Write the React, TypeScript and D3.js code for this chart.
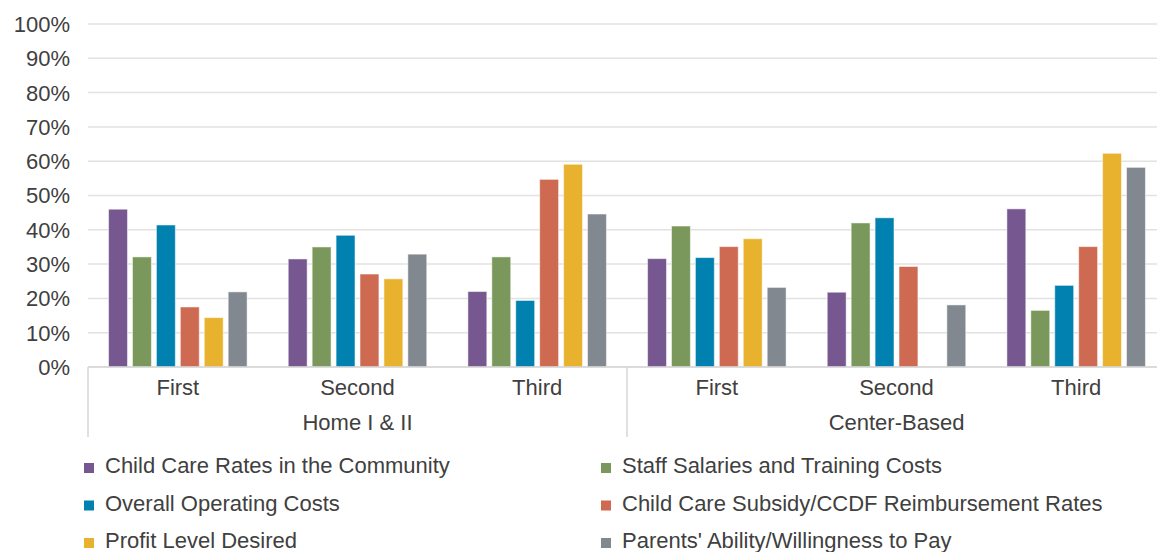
import * as d3 from 'd3'

const groups = ['Home I & II', 'Center-Based']
const ranks = ['First', 'Second', 'Third']
const series = [
  'Child Care Rates in the Community',
  'Staff Salaries and Training Costs',
  'Overall Operating Costs',
  'Child Care Subsidy/CCDF Reimbursement Rates',
  'Profit Level Desired',
  "Parents' Ability/Willingness to Pay",
]
const colors = ['#76578f', '#7a985c', '#0081b0', '#cd6a51', '#e8b22e', '#828890']

// values per series, in order: Home First, Second, Third, Center First, Second, Third
const childCareRates = [0.46, 0.315, 0.22, 0.316, 0.218, 0.461]
const staffSalaries = [0.321, 0.35, 0.321, 0.411, 0.42, 0.165]
const operatingCosts = [0.414, 0.384, 0.194, 0.319, 0.435, 0.238]
const subsidyRates = [0.175, 0.271, 0.547, 0.351, 0.293, 0.351]
const profitLevel = [0.144, 0.257, 0.591, 0.374, 0, 0.623]
const parentsAbility = [0.219, 0.329, 0.446, 0.232, 0.181, 0.582]
const seriesValues = [childCareRates, staffSalaries, operatingCosts, subsidyRates, profitLevel, parentsAbility]

const yTicks = [0, 0.1, 0.2, 0.3, 0.4, 0.5, 0.6, 0.7, 0.8, 0.9, 1]

export default function App() {
  const width = 1157
  const height = 552
  const left = 88
  const right = 1166
  const top = 24
  const bottom = 367

  const cats = groups.flatMap(g => ranks.map(r => `${g}|${r}`))
  const x0 = d3.scaleBand<string>().domain(cats).range([left, right])
  const x1 = d3.scaleBand<string>()
    .domain(series)
    .range([0, x0.bandwidth()])
    .paddingInner(0.21)
    .paddingOuter(0.86)
  const y = d3.scaleLinear().domain([0, 1]).range([bottom, top])
  const gx = d3.scaleBand<string>().domain(groups).range([left, right])

  const textColor = '#404040'
  const font = 'Liberation Sans, Arial, sans-serif'
  const fs = 22

  return (
    <svg
      width={width}
      height={height}
      style={{position: 'absolute', left: 0, top: 0}}
      fontFamily={font}
    >
      <rect width={width} height={height} fill='#fff' />
      {yTicks.map(t => (
        <g key={t}>
          <line x1={left} x2={width} y1={y(t)} y2={y(t)} stroke='#e2e2e2' strokeWidth={1.5} />
          <text x={70} y={y(t)} dy='0.36em' textAnchor='end' fontSize={fs} fill={textColor}>
            {d3.format('.0%')(t)}
          </text>
        </g>
      ))}

      {cats.map((c, ci) => (
        <g key={c} transform={`translate(${x0(c)},0)`}>
          {series.map((s, si) => {
            const v = seriesValues[si][ci]
            if (!v) return null
            return (
              <rect
                key={s}
                x={x1(s)}
                y={y(v)}
                width={x1.bandwidth()}
                height={y(0) - y(v)}
                fill={colors[si]}
                stroke='#fff'
                strokeOpacity={0.5}
                strokeWidth={1}
              />
            )
          })}
          <text
            x={x0.bandwidth() / 2}
            y={395}
            textAnchor='middle'
            fontSize={fs}
            fill={textColor}
          >
            {c.split('|')[1]}
          </text>
        </g>
      ))}

      <line x1={left} x2={width} y1={bottom} y2={bottom} stroke='#d6d6d6' strokeWidth={1.5} />
      {[...groups.map(g => gx(g) ?? 0), right].map((xv, i) => (
        <line key={i} x1={xv} x2={xv} y1={bottom} y2={437} stroke='#d6d6d6' strokeWidth={1.5} />
      ))}
      {groups.map(g => (
        <text
          key={g}
          x={(gx(g) ?? 0) + gx.bandwidth() / 2}
          y={430}
          textAnchor='middle'
          fontSize={fs}
          fill={textColor}
        >
          {g}
        </text>
      ))}

      {series.map((s, i) => {
        const col = i % 2
        const row = Math.floor(i / 2)
        const lx = col === 0 ? 84 : 601
        const ly = 473 + row * 37.5
        return (
          <g key={s} transform={`translate(${lx},${ly})`}>
            <rect x={0} y={-10} width={10} height={10} fill={colors[i]} />
            <text x={21} y={0} fontSize={fs} fill={textColor}>{s}</text>
          </g>
        )
      })}
    </svg>
  )
}
